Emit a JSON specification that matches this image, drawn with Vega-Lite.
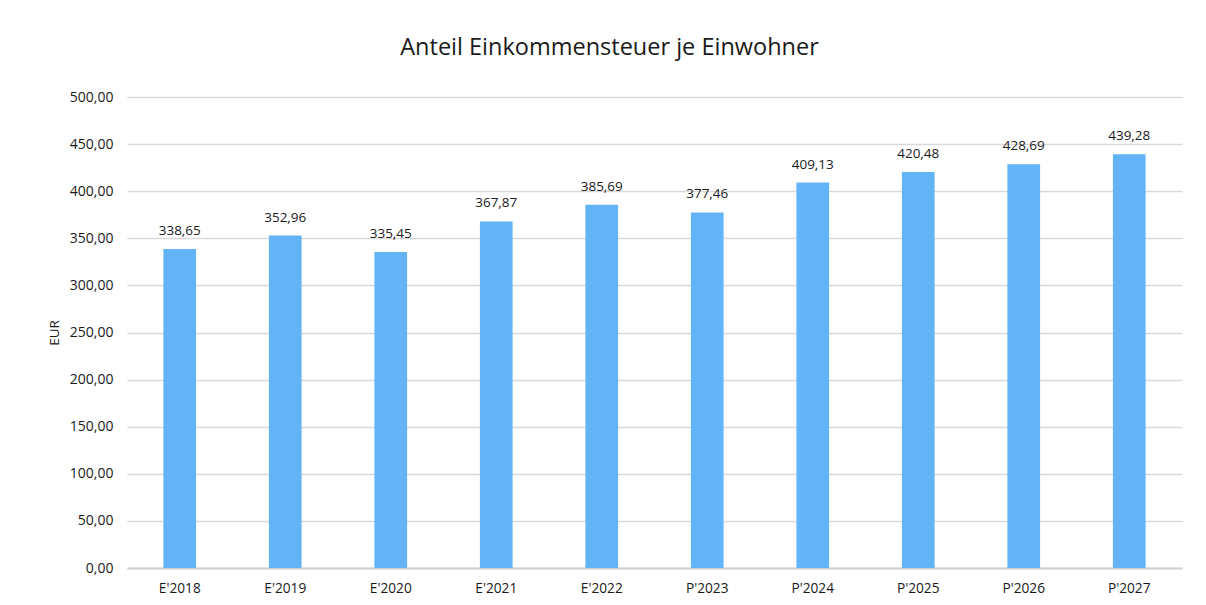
{
  "$schema": "https://vega.github.io/schema/vega-lite/v6.json",
  "autosize": {"type": "none"},
  "width": 1055,
  "height": 471,
  "padding": {"left": 127, "top": 97, "right": 24, "bottom": 37},
  "background": "white",
  "config": {
    "locale": {"number": {"decimal": ",", "thousands": ".", "grouping": [3], "currency": ["", " €"]}},
    "view": {"stroke": null},
    "font": "Open Sans"
  },
  "title": {
    "text": "Anteil Einkommensteuer je Einwohner",
    "anchor": "middle",
    "dx": -45,
    "offset": 31,
    "fontSize": 23.5,
    "fontWeight": "normal",
    "font": "Open Sans",
    "color": "#1a1a1a"
  },
  "data": {
    "values": [
      {"jahr": "E'2018", "wert": 338.65},
      {"jahr": "E'2019", "wert": 352.96},
      {"jahr": "E'2020", "wert": 335.45},
      {"jahr": "E'2021", "wert": 367.87},
      {"jahr": "E'2022", "wert": 385.69},
      {"jahr": "P'2023", "wert": 377.46},
      {"jahr": "P'2024", "wert": 409.13},
      {"jahr": "P'2025", "wert": 420.48},
      {"jahr": "P'2026", "wert": 428.69},
      {"jahr": "P'2027", "wert": 439.28}
    ]
  },
  "encoding": {
    "x": {
      "field": "jahr",
      "type": "nominal",
      "sort": null,
      "scale": {"paddingInner": 0.69, "paddingOuter": 0.345},
      "axis": {
        "title": null,
        "labelAngle": 0,
        "labelFontSize": 13.7,
        "labelColor": "#1a1a1a",
        "labelPadding": 13,
        "ticks": false,
        "domainColor": "#d0d0d0",
        "domainWidth": 2,
        "labelFont": "Open Sans"
      }
    },
    "y": {
      "field": "wert",
      "type": "quantitative",
      "scale": {"domain": [0, 500], "nice": false},
      "axis": {
        "title": "EUR",
        "titleFontSize": 13.5,
        "titleFontWeight": "normal",
        "titleColor": "#1a1a1a",
        "titlePadding": 8,
        "titleFont": "Open Sans",
        "values": [0, 50, 100, 150, 200, 250, 300, 350, 400, 450, 500],
        "format": ".2f",
        "labelFontSize": 14,
        "labelColor": "#1a1a1a",
        "labelPadding": 14,
        "labelFont": "Open Sans",
        "ticks": false,
        "domain": false,
        "gridColor": "#d9d9d9",
        "gridWidth": 1.3
      }
    }
  },
  "layer": [
    {"mark": {"type": "bar", "color": "#63B4F6"}},
    {
      "mark": {"type": "text", "baseline": "bottom", "dy": -11, "fontSize": 13.5, "color": "#1a1a1a", "font": "Open Sans"},
      "encoding": {"text": {"field": "wert", "type": "quantitative", "format": ".2f"}}
    }
  ]
}
